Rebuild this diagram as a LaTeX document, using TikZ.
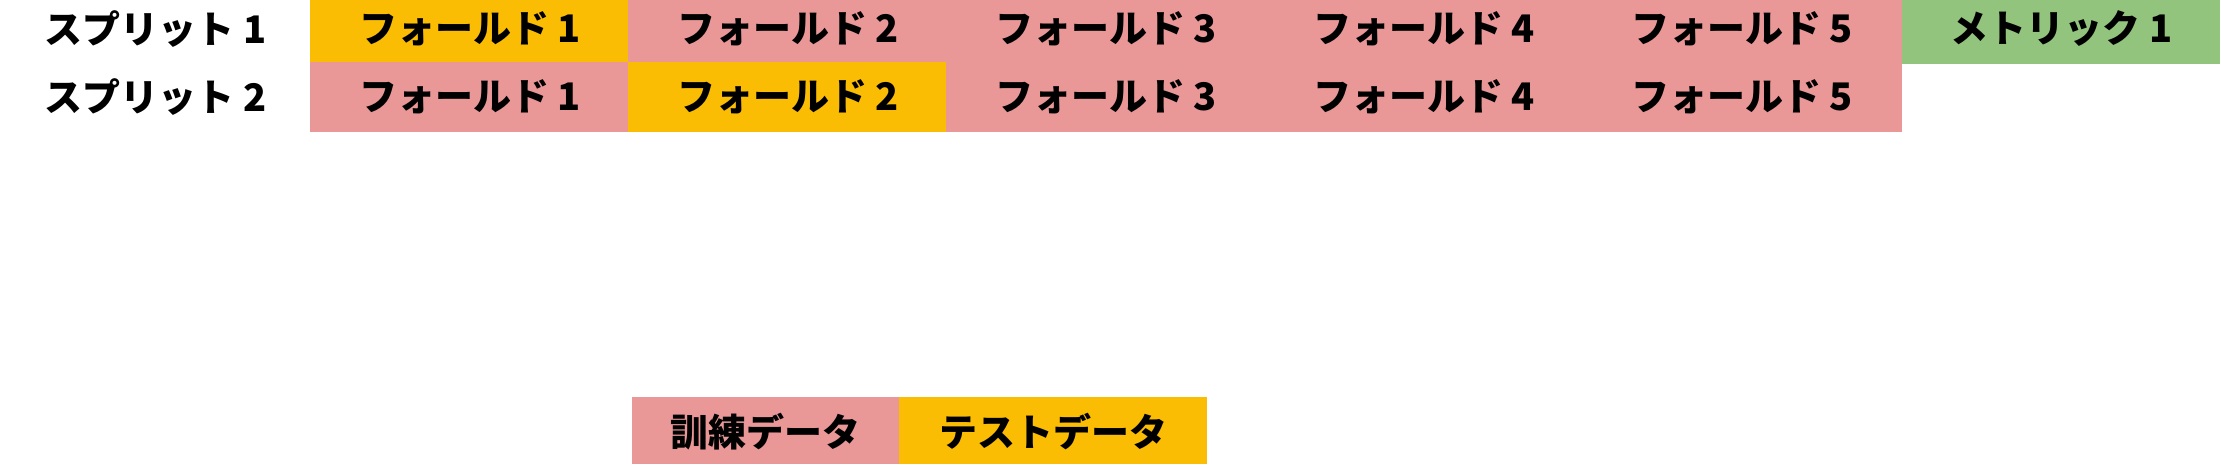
\documentclass[tikz,border=0pt]{standalone}
\usepackage{fontspec}
\setmainfont{Noto Sans CJK JP}
\usetikzlibrary{positioning}
\definecolor{testc}{HTML}{FBBC04}
\definecolor{trainc}{HTML}{EA9797}
\definecolor{metricc}{HTML}{93C47D}

\begin{document}
\begin{tikzpicture}[x=0.01cm,y=-0.01cm,
        celda/.style={minimum width=3.18cm, minimum height=0.68cm, inner sep=0pt,
            font=\fontsize{10.8}{13}\selectfont\bfseries},
        caja/.style={celda, fill=#1, draw=#1, line width=0.4pt}]
            \useasboundingbox (0,0) rectangle (2220,464);

            % Splits y folds
            \foreach \r in {1,2} {
                \node[celda, minimum width=3.11cm] (split\r) at (155.5,{68*\r-39}) {スプリット \r};
                \foreach \f in {1,...,5} {
                    \ifnum\f=\r \def\col{testc}\else\def\col{trainc}\fi
                    \node[caja=\col] (fold\r\f) at ({152+318*\f}, {68*\r-39}) {フォールド \f};
                }
            }

            % Metrica
            \node[caja=metricc, right=0pt of fold15] (metric1) {メトリック 1};

            % Leyenda
            \node[caja=trainc, minimum width=2.65cm] (train) at (765.5,432) {訓練データ};
            \node[caja=testc, minimum width=3.07cm, right=0pt of train] (test) {テストデータ};
        \end{tikzpicture}
\end{document}
